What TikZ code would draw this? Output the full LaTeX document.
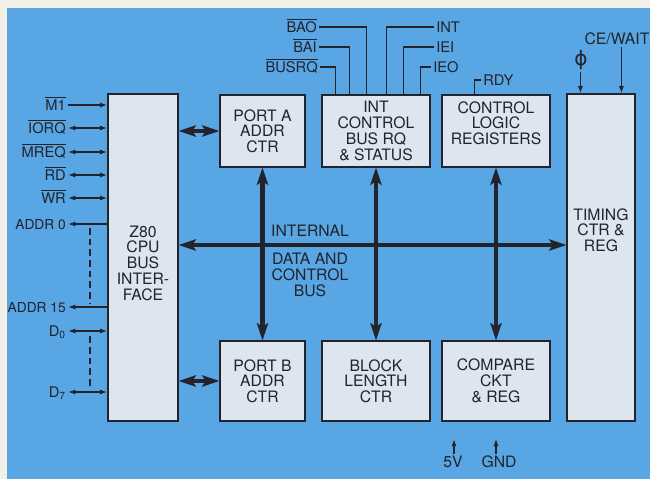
\documentclass[tikz,border=0pt]{standalone}
\usepackage{fontspec}
\setmainfont{TeX Gyre Heros}
\newfontfamily\symfont{DejaVu Sans}
\usetikzlibrary{arrows.meta,calc}
\definecolor{paper}{HTML}{F2EFE9}
\definecolor{sheet}{HTML}{58A6E3}
\definecolor{boxfill}{HTML}{DDE5EF}
\definecolor{ink}{HTML}{22232B}
\newcommand{\nsig}[1]{$\overline{\mbox{#1}}$}
\tikzset{
  blk/.style={draw=ink, fill=boxfill, line width=0.9pt, inner sep=0pt},
  txt/.style={font=\fontsize{11.8}{11.8}\selectfont, text=ink, align=center, inner sep=1.5pt},
  lab/.style={txt, font=\fontsize{11}{11}\selectfont, text height=7.9pt, text depth=0pt},
  sig/.style={draw=ink, line width=1.1pt},
  tip/.style={-{Latex[length=5.5pt,width=3.8pt]}},
  tips/.style={{Latex[length=5.5pt,width=3.8pt]}-{Latex[length=5.5pt,width=3.8pt]}},
  bus/.style={draw=ink, line width=3.2pt,
    {Stealth[length=13pt,width=8.5pt,inset=3pt]}-{Stealth[length=13pt,width=8.5pt,inset=3pt]}},
}
\begin{document}
\begin{tikzpicture}[x=0.75pt,y=-0.75pt]
\useasboundingbox (0,0) rectangle (650,479);
\fill[paper] (0,0) rectangle (650,479);
\fill[sheet] (7,8) rectangle (650,479);

\node[blk, minimum width=52.5pt, minimum height=245.25pt] (cpu) at (143,257.5) {};
\node[txt] at (143,263) {Z80\\CPU\\BUS\\INTER-\\FACE};
\node[blk, minimum width=51pt, minimum height=245.25pt] (tim) at (601,257.5) {};
\node[txt] at (601,230) {TIMING\\CTR \&\\REG};

\node[blk, txt, minimum width=63.75pt, minimum height=54pt] (porta) at (262.5,131) {PORT A\\ADDR\\CTR};
\node[blk, txt, minimum width=81pt, minimum height=54pt] (intc) at (376,131) {INT\\CONTROL\\BUS RQ\\\& STATUS};
\node[blk, minimum width=81pt, minimum height=54pt] (ctl) at (496,131) {};
\node[txt] at (496,123) {CONTROL\\LOGIC\\REGISTERS};

\node[blk, txt, minimum width=63.75pt, minimum height=60pt] (portb) at (262.5,381) {PORT B\\ADDR\\CTR};
\node[blk, txt, minimum width=81pt, minimum height=60pt] (blen) at (376,381) {BLOCK\\LENGTH\\CTR};
\node[blk, txt, minimum width=81pt, minimum height=60pt] (cmp) at (496,381) {COMPARE\\CKT\\\& REG};

\coordinate (bus) at (0,245);
\draw[bus] (cpu.east |- bus) -- (tim.west |- bus);
\draw[bus] (cpu.east |- porta) -- (porta.west);
\draw[bus] (cpu.east |- portb) -- (portb.west);
\draw[bus] (porta) -- (portb);
\draw[bus] (intc) -- (blen);
\draw[bus] (ctl) -- (cmp);
\node[txt] at (310,231) {INTERNAL};
\node[txt] at (310,275) {DATA AND\\CONTROL\\BUS};

\node[lab, anchor=east] (m1) at (68,105) {\nsig{M1}};
\node[lab, anchor=east] (iorq) at (68,128) {\nsig{IORQ}};
\node[lab, anchor=east] (mreq) at (68,152) {\nsig{MREQ}};
\node[lab, anchor=east] (rd) at (68,175) {\nsig{RD}};
\node[lab, anchor=east] (wr) at (68,198) {\nsig{WR}};
\node[lab, anchor=east, font=\fontsize{10.3}{10.3}\selectfont] (a0) at (68,224) {ADDR 0};
\node[lab, anchor=east, font=\fontsize{10.3}{10.3}\selectfont] (a15) at (68,307) {ADDR 15};
\node[lab, anchor=east] (d0) at (68,331) {D\textsubscript{0}};
\node[lab, anchor=east] (d7) at (68,392) {D\textsubscript{7}};
\draw[sig, tip] (m1.east) -- (m1 -| cpu.west);
\draw[sig, tips] (iorq.east) -- (iorq -| cpu.west);
\draw[sig, tips] (mreq.east) -- (mreq -| cpu.west);
\draw[sig, tips] (rd.east) -- (rd -| cpu.west);
\draw[sig, tips] (wr.east) -- (wr -| cpu.west);
\draw[sig, tip] (a0 -| cpu.west) -- (a0.east);
\draw[sig, tip] (a15 -| cpu.west) -- (a15.east);
\draw[sig, tips] (d0.east) -- (d0 -| cpu.west);
\draw[sig, tips] (d7.east) -- (d7 -| cpu.west);
\coordinate (dash) at (90,0);
\draw[sig, dash pattern=on 5pt off 3pt] ([yshift=-3pt]a0 -| dash) -- ([yshift=3pt]a15 -| dash);
\draw[sig, dash pattern=on 5pt off 3pt] ([yshift=-4pt]d0 -| dash) -- ([yshift=3pt]d7 -| dash);

\node[lab, anchor=east] (bao) at (319,27) {\nsig{BAO}};
\node[lab, anchor=east] (bai) at (319,47) {\nsig{BAI}};
\node[lab, anchor=east] (busrq) at (320,67) {\nsig{BUSRQ}};
\node[lab, anchor=west] (int) at (434,27) {INT};
\node[lab, anchor=west] (iei) at (434,47) {IEI};
\node[lab, anchor=west] (ieo) at (431,67) {IEO};
\draw[sig] (bao.east) -| ($(intc.north west)+(45,0)$);
\draw[sig] (bai.east) -| ($(intc.north west)+(28,0)$);
\draw[sig] (busrq.east) -| ($(intc.north west)+(14,0)$);
\draw[sig] (int.west) -| ($(intc.north west)+(65,0)$);
\draw[sig] (iei.west) -| ($(intc.north west)+(82,0)$);
\draw[sig] (ieo.west) -| ($(intc.north west)+(99,0)$);

\node[lab, anchor=west] (rdy) at (481,80) {RDY};
\draw[sig] (rdy.west) -| ($(ctl.north west)+(33,0)$);

\node[txt, font=\symfont\fontsize{15}{15}\selectfont] (phi) at (581,60) {ϕ};
\node[txt] (ce) at (617,39) {CE/WAIT};
\coordinate (phiT) at ($(tim.north west)+(14,0)$);
\coordinate (ceT) at ($(tim.north west)+(55,0)$);
\draw[sig, tip] (phi.south -| phiT) -- (phiT);
\draw[sig, tip] (ce.south -| ceT) -- (ceT);

\node[txt] (v5) at (453,462) {5V};
\node[txt] (gnd) at (499,462) {GND};
\draw[sig, tip] ([xshift=0.75pt]v5.north) -- ++(0,-15);
\draw[sig, tip] ([xshift=-2.25pt]gnd.north) -- ++(0,-15);
\end{tikzpicture}
\end{document}
